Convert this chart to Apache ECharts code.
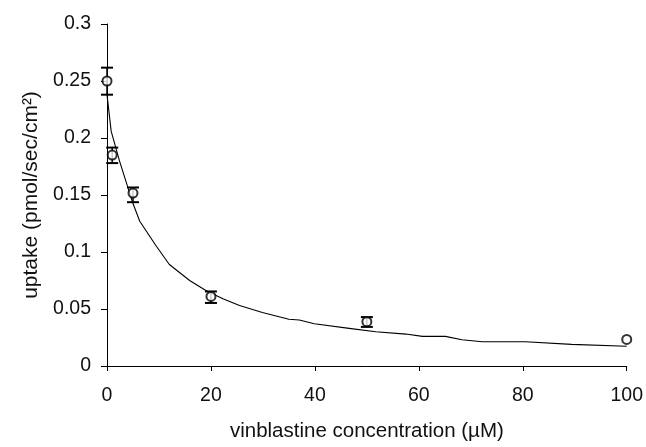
<!DOCTYPE html>
<html>
<head>
<meta charset="utf-8">
<script src="https://cdn.jsdelivr.net/npm/echarts@6/dist/echarts.min.js"></script>
<style>
html,body{margin:0;padding:0;background:#fff;}
#chart{width:646px;height:447px;}
</style>
</head>
<body>
<div id="chart"></div>
<script>
// Measured points: concentration (µM), uptake (pmol/sec/cm²)
const concentrations = [0, 1, 5, 20, 50, 100];
const uptake = [0.250, 0.185, 0.1517, 0.061, 0.0389, 0.0233];
const errLow = [0.238, 0.178, 0.1437, 0.0553, 0.0343, null];
const errHigh = [0.2617, 0.1916, 0.1566, 0.0654, 0.0429, null];

// Fitted curve
const curveX = [0, 0.8, 2.4, 5, 6.3, 9.5, 12, 15.9, 19.1, 22.3, 25.5, 29.9, 35, 37, 39.9, 46.6, 51.7, 57.5, 60.7, 65.1, 68.3, 72.2, 80.5, 89.4, 100];
const curveY = [0.238, 0.206, 0.18, 0.1425, 0.127, 0.105, 0.089, 0.075, 0.066, 0.059, 0.053, 0.047, 0.041, 0.0403, 0.037, 0.033, 0.030, 0.028, 0.026, 0.026, 0.023, 0.0213, 0.0213, 0.019, 0.0173];

const xTicks = [0, 20, 40, 60, 80, 100];
const yTicks = [0, 0.05, 0.1, 0.15, 0.2, 0.25, 0.3];

const FONT = '"Liberation Sans", Arial, sans-serif';
const TXT = '#111';

const chart = echarts.init(document.getElementById('chart'), null, {renderer: 'canvas'});

const errData = [];
for (let i = 0; i < concentrations.length; i++) {
  if (errLow[i] != null) errData.push([concentrations[i], errLow[i], errHigh[i]]);
}

chart.setOption({
  animation: false,
  backgroundColor: '#fff',
  grid: {left: 107, right: 18, top: 24, bottom: 75, containLabel: false},
  xAxis: {
    type: 'value',
    min: xTicks[0], max: xTicks[xTicks.length - 1], interval: 20,
    name: 'vinblastine concentration (µM)',
    nameLocation: 'middle', nameGap: 55,
    nameTextStyle: {fontFamily: FONT, fontSize: 20.5, color: TXT},
    axisLine: {show: true, onZero: false, lineStyle: {color: '#000', width: 1}},
    axisTick: {show: true, inside: false, length: 5, lineStyle: {color: '#000'}},
    axisLabel: {fontFamily: FONT, fontSize: 19.5, color: TXT, margin: 20},
    splitLine: {show: false}
  },
  yAxis: {
    type: 'value',
    min: yTicks[0], max: yTicks[yTicks.length - 1], interval: 0.05,
    name: 'uptake (pmol/sec/cm²)',
    nameLocation: 'middle', nameGap: 62, nameRotate: 90,
    nameTextStyle: {fontFamily: FONT, fontSize: 21, color: TXT},
    axisLine: {show: true, lineStyle: {color: '#000', width: 1}},
    axisTick: {show: true, inside: false, length: 6, lineStyle: {color: '#000'}},
    axisLabel: {fontFamily: FONT, fontSize: 19.5, color: TXT, margin: 16,
      formatter: v => String(+v.toFixed(2))},
    splitLine: {show: false}
  },
  series: [
    {
      type: 'line',
      data: curveX.map((x, i) => [x, curveY[i]]),
      showSymbol: false,
      symbol: 'none',
      lineStyle: {color: '#000', width: 1.1},
      z: 2
    },
    {
      type: 'custom',
      data: errData,
      z: 3,
      renderItem: function (params, api) {
        const x = api.value(0);
        const lo = api.coord([x, api.value(1)]);
        const hi = api.coord([x, api.value(2)]);
        const hw = 6;
        const st = {stroke: '#000', lineWidth: 2};
        return {
          type: 'group',
          children: [
            {type: 'line', shape: {x1: lo[0], y1: lo[1], x2: hi[0], y2: hi[1]}, style: {stroke: '#000', lineWidth: 1.5}},
            {type: 'line', shape: {x1: lo[0] - hw, y1: lo[1], x2: lo[0] + hw, y2: lo[1]}, style: st},
            {type: 'line', shape: {x1: hi[0] - hw, y1: hi[1], x2: hi[0] + hw, y2: hi[1]}, style: st}
          ]
        };
      }
    },
    {
      type: 'scatter',
      data: concentrations.map((x, i) => [x, uptake[i]]),
      symbol: 'circle',
      symbolSize: 9,
      itemStyle: {color: '#fff', borderColor: '#000', borderWidth: 2},
      z: 4
    }
  ]
});
</script>
</body>
</html>
